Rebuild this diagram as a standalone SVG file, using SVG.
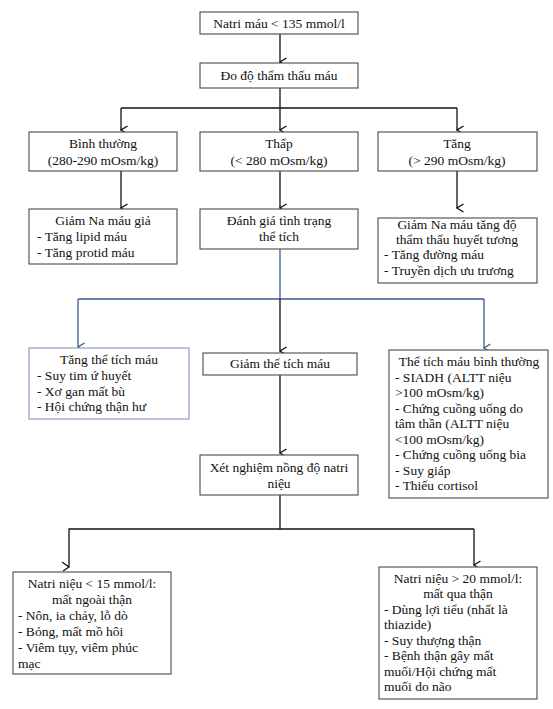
<svg xmlns="http://www.w3.org/2000/svg" width="553" height="709" viewBox="0 0 553 709">
<defs>
<style>
.box{fill:#fff;stroke:#4a4a4a;stroke-width:1.1}
.bbox{fill:#fff;stroke:#8397b8;stroke-width:1.1}
.t{font-family:'Liberation Serif','Times New Roman',serif;font-size:13.5px;fill:#111}
.c{text-anchor:middle}
.ln{fill:none;stroke:#111;stroke-width:1.3}
.bl{fill:none;stroke:#3d5a93;stroke-width:1.3}
</style>
<marker id="ah" viewBox="0 0 10 10" refX="5" refY="9" markerWidth="10" markerHeight="10" markerUnits="userSpaceOnUse" orient="auto-start-reverse">
<path d="M1,2.5 L5,9 L9,2.5" fill="none" stroke="#111" stroke-width="1.3"/>
</marker>
<marker id="ahb" viewBox="0 0 10 10" refX="5" refY="9" markerWidth="10" markerHeight="10" markerUnits="userSpaceOnUse" orient="auto-start-reverse">
<path d="M1,2.5 L5,9 L9,2.5" fill="none" stroke="#3d5a93" stroke-width="1.3"/>
</marker>
</defs>
<rect width="553" height="709" fill="#fff"/>
<g id="connectors">
<line class="ln" x1="280" y1="34" x2="280" y2="62" marker-end="url(#ah)"/>
<polyline class="ln" points="280,88 280,108"/>
<polyline class="ln" points="121,108 457,108"/>
<line class="ln" x1="121" y1="108" x2="121" y2="130" marker-end="url(#ah)"/>
<line class="ln" x1="280" y1="108" x2="280" y2="130" marker-end="url(#ah)"/>
<line class="ln" x1="457" y1="108" x2="457" y2="130" marker-end="url(#ah)"/>
<line class="ln" x1="121" y1="171" x2="121" y2="208" marker-end="url(#ah)"/>
<line class="ln" x1="280" y1="171" x2="280" y2="208" marker-end="url(#ah)"/>
<line class="ln" x1="457" y1="171" x2="457" y2="208" marker-end="url(#ah)"/>
<polyline class="bl" points="280,249 280,299"/>
<polyline class="bl" points="78,299 484,299"/>
<line class="bl" x1="78" y1="299" x2="78" y2="347" marker-end="url(#ahb)"/>
<line class="bl" x1="484" y1="299" x2="484" y2="348" marker-end="url(#ahb)"/>
<line class="ln" x1="280" y1="299" x2="280" y2="351" marker-end="url(#ah)"/>
<line class="ln" x1="280" y1="375" x2="280" y2="453" marker-end="url(#ah)"/>
<polyline class="ln" points="280,495 280,529"/>
<polyline class="ln" points="69,567 69,529 474,529"/>
<path class="ln" d="M62,562 L69,567 L63,571"/>
<line class="ln" x1="474" y1="529" x2="474" y2="565" marker-end="url(#ah)"/>
</g>
<g id="n1"><rect class="box" x="200" y="12" width="158" height="22"/><text class="t c" x="279" y="28">Natri máu &lt; 135 mmol/l</text></g>
<g id="n2"><rect class="box" x="200" y="63" width="158" height="25"/><text class="t c" x="279" y="80">Đo độ thẩm thấu máu</text></g>
<g id="n3"><rect class="box" x="29" y="132" width="148" height="39"/><text class="t c" x="103" y="148">Bình thường</text><text class="t c" x="103" y="165">(280-290 mOsm/kg)</text></g>
<g id="n4"><rect class="box" x="200" y="132" width="158" height="39"/><text class="t c" x="279" y="148">Thấp</text><text class="t c" x="279" y="165">(&lt; 280 mOsm/kg)</text></g>
<g id="n5"><rect class="box" x="378" y="132" width="159" height="39"/><text class="t c" x="457" y="148">Tăng</text><text class="t c" x="457" y="165">(&gt; 290 mOsm/kg)</text></g>
<g id="n6"><rect class="box" x="29" y="209" width="148" height="55"/><text class="t c" x="103" y="225">Giảm Na máu giả</text><text class="t" x="37" y="241">- Tăng lipid máu</text><text class="t" x="37" y="257">- Tăng protid máu</text></g>
<g id="n7"><rect class="box" x="200" y="209" width="158" height="40"/><text class="t c" x="279" y="225">Đánh giá tình trạng</text><text class="t c" x="279" y="241">thể tích</text></g>
<g id="n8"><rect class="box" x="378" y="218" width="159" height="65"/><text class="t c" x="457" y="229">Giảm Na máu tăng độ</text><text class="t c" x="457" y="244">thẩm thấu huyết tương</text><text class="t" x="384" y="259">- Tăng đường máu</text><text class="t" x="384" y="275">- Truyền dịch ưu trương</text></g>
<g id="n9"><rect class="bbox" x="29" y="348" width="160" height="71"/><text class="t c" x="109" y="364">Tăng thể tích máu</text><text class="t" x="37" y="380">- Suy tim ứ huyết</text><text class="t" x="37" y="396">- Xơ gan mất bù</text><text class="t" x="37" y="411">- Hội chứng thận hư</text></g>
<g id="n10"><rect class="box" x="203" y="353" width="154" height="22"/><text class="t c" x="280" y="368">Giảm thể tích máu</text></g>
<g id="n11"><rect class="box" x="389" y="350" width="159" height="148"/><text class="t c" x="469" y="366">Thể tích máu bình thường</text><text class="t" x="395" y="382">- SIADH (ALTT niệu</text><text class="t" x="395" y="397">&gt;100 mOsm/kg)</text><text class="t" x="395" y="413">- Chứng cuồng uống do</text><text class="t" x="395" y="428">tâm thần (ALTT niệu</text><text class="t" x="395" y="444">&lt;100 mOsm/kg)</text><text class="t" x="395" y="459">- Chứng cuồng uống bia</text><text class="t" x="395" y="475">- Suy giáp</text><text class="t" x="395" y="490">- Thiếu cortisol</text></g>
<g id="n12"><rect class="box" x="200" y="455" width="158" height="40"/><text class="t c" x="279" y="472">Xét nghiệm nồng độ natri</text><text class="t c" x="279" y="488">niệu</text></g>
<g id="n13"><rect class="box" x="13" y="572" width="158" height="102"/><text class="t c" x="92" y="588">Natri niệu &lt; 15 mmol/l:</text><text class="t c" x="92" y="604">mất ngoài thận</text><text class="t" x="18" y="620">- Nôn, ia chảy, lỗ dò</text><text class="t" x="18" y="636">- Bỏng, mất mồ hôi</text><text class="t" x="18" y="652">- Viêm tụy, viêm phúc</text><text class="t" x="18" y="668">mạc</text></g>
<g id="n14"><rect class="box" x="379" y="567" width="158" height="132"/><text class="t c" x="458" y="583">Natri niệu &gt; 20 mmol/l:</text><text class="t c" x="458" y="598">mất qua thận</text><text class="t" x="384" y="614">- Dùng lợi tiểu (nhất là</text><text class="t" x="384" y="629">thiazide)</text><text class="t" x="384" y="645">- Suy thượng thận</text><text class="t" x="384" y="660">- Bệnh thận gây mất</text><text class="t" x="384" y="676">muối/Hội chứng mất</text><text class="t" x="384" y="691">muối do não</text></g>
</svg>
